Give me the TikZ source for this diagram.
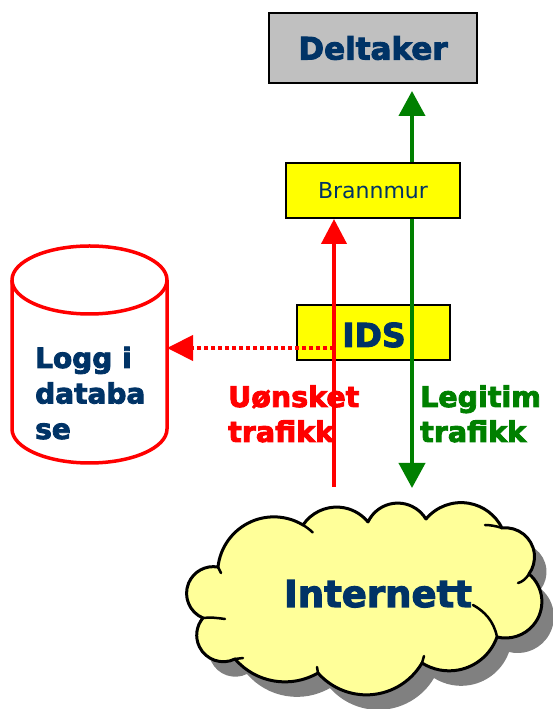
\documentclass[tikz,border=0pt]{standalone}
\usepackage{fontspec}
\setmainfont[BoldFeatures={FakeBold=3}]{DejaVu Sans}
\usetikzlibrary{arrows.meta}
\definecolor{dblue}{HTML}{003366}
\definecolor{dgreen}{HTML}{008000}
\definecolor{boxgray}{HTML}{C0C0C0}
\definecolor{boxyellow}{HTML}{FFFF00}
\definecolor{cloudyellow}{HTML}{FFFF99}
\definecolor{shadowgray}{HTML}{808080}
\newcommand\inetcloudpath{%
  (203,91) arc[start angle=247.4, end angle=79.9, radius=26.7]
  -- (218,142) arc[start angle=173.8, end angle=58.8, radius=56.2]
  -- (303,184) arc[start angle=146.1, end angle=39.2, radius=40.5]
  -- (368,187) arc[start angle=154.8, end angle=31.1, radius=32.9]
  -- (426,190) arc[start angle=140.1, end angle=26.4, radius=45.7]
  -- (502,181) arc[start angle=96.7, end angle=-35.9, radius=29.1]
  -- (529,135) arc[start angle=49.8, end angle=-103.7, radius=36.3]
  -- (497,72) arc[start angle=-19.5, end angle=-122.2, radius=50.8]
  -- (422,46) arc[start angle=-30.4, end angle=-138.6, radius=64.5]
  -- (318,36) arc[start angle=-59.9, end angle=-139.2, radius=65.9]
  -- (235,50) arc[start angle=-63.9, end angle=-220.1, radius=26.6]
  -- cycle}
\tikzset{
  x=1pt, y=1pt,
  boxnode/.style={draw=black, line width=2pt, inner sep=0pt},
  redarrow/.style={draw=red, line width=4pt, -{Triangle[length=25pt,width=25pt]}},
  greenarrow/.style={draw=dgreen, line width=4pt, {Triangle[length=25pt,width=26pt]}-{Triangle[length=25pt,width=26pt]}},
  dotarrow/.style={draw=red, line width=4pt, dash pattern=on 4pt off 3pt, -{Triangle[length=26pt,width=25pt]}},
  boldtxt/.style={font=\bfseries, inner sep=0pt},
  cloudline/.style={draw=black, line width=3pt, line join=round},
  hookline/.style={draw=black, line width=2.5pt, line cap=round},
}
\begin{document}
\begin{tikzpicture}
\useasboundingbox (0,0) rectangle (553,709);
% Deltaker
\node[boxnode, fill=boxgray, minimum width=208pt, minimum height=70pt] (deltaker) at (373,661)
  {\fontsize{31}{37}\selectfont\bfseries\color{dblue}Deltaker};
% IDS box
\node[boxnode, fill=boxyellow, minimum width=153pt, minimum height=55pt] (ids) at (373.5,376.5) {};
\node[boldtxt, text=dblue, anchor=base, font=\fontsize{33}{40}\selectfont\bfseries] (idstext) at (374,362) {IDS};
% green arrow
\coordinate (gbot) at (412,221);
\draw[greenarrow, shorten >=7pt] (gbot) -- (gbot |- deltaker.south);
% Brannmur
\node[boxnode, fill=boxyellow, minimum width=174pt, minimum height=55pt] (brannmur) at (373,518.5)
  {\fontsize{22}{26}\selectfont\color{dblue}Brannmur};
% red arrow
\coordinate (rbot) at (334,222);
\draw[redarrow] (rbot) -- (rbot |- brannmur.south);
% cylinder
\draw[red, line width=3.5pt, fill=white]
  (12,429) -- (12,280) arc[start angle=180, end angle=360, x radius=77.5, y radius=34]
  -- (167,429) arc[start angle=0, end angle=180, x radius=77.5, y radius=34] -- cycle;
\draw[red, line width=3.5pt] (12,429) arc[start angle=180, end angle=360, x radius=77.5, y radius=34];
\coordinate (logge) at (167,361);
\node[boldtxt, text=dblue, anchor=base west, align=left, font=\fontsize{28}{35.5}\selectfont\bfseries] (logg) at (35,270) {Logg i\\databa\\se};
% dotted arrow
\coordinate (dstart) at (334,361);
\draw[dotarrow] (dstart) -- (logge);
% labels
\node[boldtxt, text=red, anchor=base west, align=left, font=\fontsize{28.5}{35}\selectfont\bfseries] (uonsket) at (228,267) {Uønsket\\trafikk};
\node[boldtxt, text=dgreen, anchor=base west, align=left, font=\fontsize{28.5}{35}\selectfont\bfseries] (legitim) at (420,267) {Legitim\\trafikk};
% cloud with shadow
\fill[shadowgray, shift={(12,-15)}] \inetcloudpath;
\filldraw[cloudline, fill=cloudyellow] \inetcloudpath;
% inner ends of the cloud puffs
\draw[hookline] (303,184) arc[start angle=58.8, end angle=46.4, radius=56.2];
\draw[hookline] (502,181) .. controls (496,183) and (490,184) .. (485,184);
\draw[hookline] (529,135) .. controls (526,130) and (522,127) .. (518,126);
\draw[hookline] (497,72) .. controls (494,88) and (484,98) .. (473,104);
\draw[hookline] (422,46) -- (424,53);
\draw[hookline] (318,36) -- (317,42);
\draw[hookline] (235,50) -- (243,51);
\draw[hookline] (203,91) .. controls (210,92) and (218,91) .. (225,90);
\draw[hookline] (218,142) -- (221,136);
\node[boldtxt, text=dblue, anchor=base, font=\fontsize{37}{44}\selectfont\bfseries] (inet) at (378,102) {Internett};
\end{tikzpicture}
\end{document}
